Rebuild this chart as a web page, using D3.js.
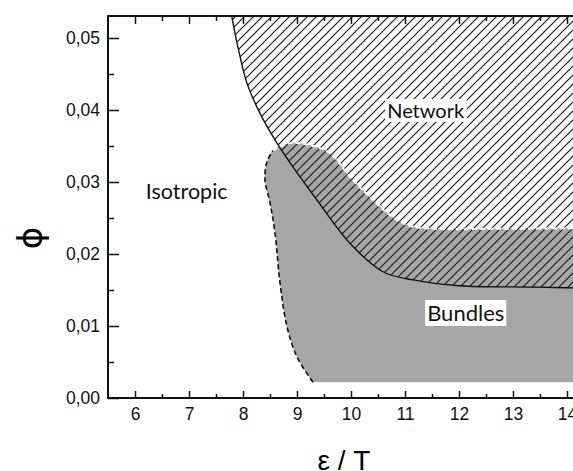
<!DOCTYPE html>
<html>
<head>
<meta charset="utf-8">
<script src="https://cdn.jsdelivr.net/npm/d3@7"></script>
<style>
body { margin: 0; background: #fff; }
svg { display: block; }
.tick text { font-family: "Liberation Sans", Arial, sans-serif; font-size: 17.5px; fill: #111; }
.tick line { stroke: #111; stroke-width: 1.5; }
.region-label { font-family: Lato, sans-serif; fill: #111; }
</style>
</head>
<body>
<svg id="canvas"></svg>
<script>
// axis ticks
let xTicks = [6, 7, 8, 9, 10, 11, 12, 13, 14]
let xMinorTicks = [6.5, 7.5, 8.5, 9.5, 10.5, 11.5, 12.5, 13.5, 14.5]
let yTicks = [0, 0.01, 0.02, 0.03, 0.04, 0.05]
let yMinorTicks = [0.005, 0.015, 0.025, 0.035, 0.045]

// solid line: lower edge of the Network region
let networkX = [7.78, 7.89, 8.07, 8.31, 8.63, 9.0, 9.37, 9.98, 10.6, 11.15, 12.0, 13.4, 14.8]
let networkPhi = [0.0535, 0.0493, 0.0438, 0.0396, 0.0354, 0.0313, 0.0275, 0.0215, 0.0175, 0.0164, 0.0156, 0.0154, 0.0152]

// dashed outline of the Bundles region, from bottom left going up and right
let bundlesX = [9.296, 9.0, 8.815, 8.685, 8.593, 8.5, 8.407, 8.444, 8.556, 8.87, 9.241, 9.611, 9.981, 10.407, 10.778, 11.093, 11.519, 12.759, 14.8]
let bundlesPhi = [0.0022, 0.0057, 0.0099, 0.016, 0.0229, 0.0271, 0.0303, 0.0328, 0.0344, 0.0354, 0.0351, 0.034, 0.0307, 0.0275, 0.0251, 0.0239, 0.0235, 0.0235, 0.0236]
let bundlesFloor = 0.0022

let labelNames = ['Isotropic', 'Network', 'Bundles']
let labelX = [6.2, 10.67, 11.41]
let labelPhi = [0.0276, 0.0389, 0.0107]
let labelSizes = [21.5, 20, 22]

let width = 573
let height = 471
let plotLeft = 108
let plotTop = 16
let plotBottom = 398

let canvas = d3.select('#canvas')
canvas.attr('width', width)
      .attr('height', height)

let xScale = d3.scaleLinear()
               .domain([5.5, 14.8])
               .range([plotLeft, plotLeft + 9.3 * 54])
let yScale = d3.scaleLinear()
               .domain([0, 0.053])
               .range([plotBottom, plotBottom - 0.053 * 7200])

let plotRight = xScale(14.8)

let defs = canvas.append('defs')
defs.append('clipPath')
    .attr('id', 'plot-clip')
    .append('rect')
    .attr('x', plotLeft)
    .attr('y', plotTop)
    .attr('width', plotRight - plotLeft)
    .attr('height', plotBottom - plotTop)

let hatch = defs.append('pattern')
                .attr('id', 'hatch')
                .attr('patternUnits', 'userSpaceOnUse')
                .attr('width', 9)
                .attr('height', 9)
hatch.append('path')
     .attr('d', 'M0,9 L9,0 M-1,1 L1,-1 M8,10 L10,8')
     .attr('stroke', '#1a1a1a')
     .attr('stroke-width', 1.2)

let plot = canvas.append('g')
                 .attr('clip-path', 'url(#plot-clip)')

let curve = d3.line()
              .x((d) => xScale(d[0]))
              .y((d) => yScale(d[1]))
              .curve(d3.curveCatmullRom.alpha(0.5))

let bundlesPts = bundlesX.map((x, i) => [x, bundlesPhi[i]])
let networkPts = networkX.map((x, i) => [x, networkPhi[i]])

// grey Bundles region
plot.append('path')
    .attr('d', curve(bundlesPts) + 'L' + xScale(14.8) + ',' + yScale(bundlesFloor) + 'Z')
    .attr('fill', '#a6a6a6')

// hatched Network region
plot.append('path')
    .attr('d', curve(networkPts) + 'L' + xScale(14.8) + ',' + yScale(0.06) + 'L' + xScale(7.7) + ',' + yScale(0.06) + 'Z')
    .attr('fill', 'url(#hatch)')

plot.append('path')
    .attr('d', curve(networkPts))
    .attr('fill', 'none')
    .attr('stroke', '#111')
    .attr('stroke-width', 1.4)

// dashed edges of the grey region
plot.append('path')
    .attr('d', curve(bundlesPts.slice(0, 9)))
    .attr('fill', 'none')
    .attr('stroke', '#111')
    .attr('stroke-width', 1.6)
    .attr('stroke-dasharray', '5,3')

plot.append('path')
    .attr('d', curve(bundlesPts.slice(8)))
    .attr('fill', 'none')
    .attr('stroke', '#fff')
    .attr('stroke-width', 2)
    .attr('stroke-dasharray', '5,3')

// region labels on white boxes
labelNames.forEach((name, i) => {
    let g = plot.append('g')
    let box = g.append('rect').attr('fill', '#fff')
    let t = g.append('text')
             .attr('class', 'region-label')
             .attr('x', xScale(labelX[i]))
             .attr('y', yScale(labelPhi[i]))
             .style('font-size', labelSizes[i] + 'px')
             .text(name)
    let bb = t.node().getBBox()
    box.attr('x', bb.x - 2)
       .attr('y', bb.y + 1)
       .attr('width', bb.width + 4)
       .attr('height', bb.height - 1)
})

// axes with inward ticks
let drawAxes = () => {
    let fmt = (d) => d3.format('.2f')(d).replace('.', ',')

    canvas.append('g')
          .attr('transform', 'translate(0,' + plotBottom + ')')
          .call(d3.axisBottom(xScale).tickValues(xTicks).tickSizeInner(-7).tickSizeOuter(0).tickPadding(10).tickFormat(d3.format('d')))
          .call((g) => g.select('.domain').remove())
    canvas.append('g')
          .attr('transform', 'translate(0,' + plotBottom + ')')
          .call(d3.axisBottom(xScale).tickValues(xMinorTicks).tickSizeInner(-4).tickSizeOuter(0).tickFormat(''))
          .call((g) => g.select('.domain').remove())

    canvas.append('g')
          .attr('transform', 'translate(0,' + plotTop + ')')
          .call(d3.axisTop(xScale).tickValues(xTicks).tickSizeInner(-8).tickSizeOuter(0).tickFormat(''))
          .call((g) => g.select('.domain').remove())
    canvas.append('g')
          .attr('transform', 'translate(0,' + plotTop + ')')
          .call(d3.axisTop(xScale).tickValues(xMinorTicks).tickSizeInner(-5).tickSizeOuter(0).tickFormat(''))
          .call((g) => g.select('.domain').remove())

    canvas.append('g')
          .attr('transform', 'translate(' + plotLeft + ',0)')
          .call(d3.axisLeft(yScale).tickValues(yTicks).tickSizeInner(-11).tickSizeOuter(0).tickPadding(8).tickFormat(fmt))
          .call((g) => g.select('.domain').remove())
    canvas.append('g')
          .attr('transform', 'translate(' + plotLeft + ',0)')
          .call(d3.axisLeft(yScale).tickValues(yMinorTicks).tickSizeInner(-6).tickSizeOuter(0).tickFormat(''))
          .call((g) => g.select('.domain').remove())

    // frame
    canvas.append('path')
          .attr('d', 'M' + plotRight + ',' + plotTop + 'H' + plotLeft + 'V' + plotBottom + 'H' + plotRight)
          .attr('fill', 'none')
          .attr('stroke', '#111')
          .attr('stroke-width', 2)

    canvas.append('text')
          .attr('x', 344)
          .attr('y', 470)
          .attr('text-anchor', 'middle')
          .style('font-family', '"Liberation Sans", Arial, sans-serif')
          .style('font-size', '28px')
          .text('ε / T')

    canvas.append('text')
          .attr('transform', 'translate(42,238) rotate(-90)')
          .attr('text-anchor', 'middle')
          .style('font-family', '"DejaVu Sans", sans-serif')
          .style('font-size', '34px')
          .text('ϕ')
}

drawAxes()
</script>
</body>
</html>
